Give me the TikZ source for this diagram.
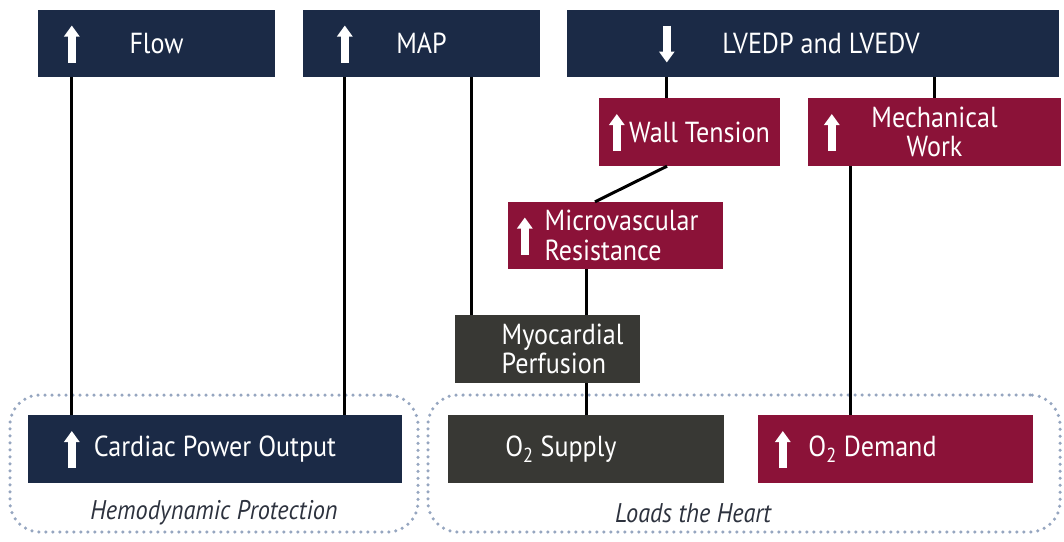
\documentclass[tikz,border=0pt]{standalone}
\usepackage{fontspec}
\setmainfont[FakeStretch=0.9]{PT Sans}
\usepackage{tikz}
\usetikzlibrary{arrows.meta,positioning}

\definecolor{navy}{RGB}{27,42,70}
\definecolor{crimson}{RGB}{139,18,56}
\definecolor{darkgrey}{RGB}{56,56,52}
\definecolor{dotblue}{RGB}{150,166,192}
\definecolor{capgrey}{RGB}{45,50,62}

% white arrow inside a box: box name, distance from its left edge
\newcommand{\upicon}[2]{\draw[icon] ([xshift=#2, yshift=-19pt]#1.west) -- ([xshift=#2, yshift=18pt]#1.west);}
\newcommand{\downicon}[2]{\draw[icon] ([xshift=#2, yshift=18pt]#1.west) -- ([xshift=#2, yshift=-19pt]#1.west);}

\begin{document}
\begin{tikzpicture}[
    x=1pt, y=-1pt,
    box/.style={rectangle, minimum height=67, inner sep=0, text=white, font=\fontsize{29}{29.5}\selectfont},
    navybox/.style={box, fill=navy},
    redbox/.style={box, fill=crimson},
    greybox/.style={box, fill=darkgrey},
    link/.style={line width=3pt, black},
    icon/.style={white, line width=7.5pt, -{Triangle[width=15pt, length=11pt]}},
    zone/.style={draw=dotblue, line width=3.5pt, dash pattern=on 0pt off 7pt, line cap=round, rounded corners=30pt},
    caption/.style={font=\fontsize{27}{30}\selectfont\itshape, text=capgrey}
]
    \useasboundingbox (0,0) rectangle (1064,541);

    % groups
    \node[zone, minimum width=408, minimum height=137] (hemo) at (214,463.5) {};
    \node[zone, minimum width=632, minimum height=137] (loads) at (744,463.5) {};
    \node[caption] (hemocap) at (214,513) {Hemodynamic Protection};
    \node[caption] (loadscap) at (693,513) {Loads the Heart};

    % top row
    \node[navybox, minimum width=237] (flow) at (156.5,43.5) {Flow};
    \node[navybox, minimum width=237] (map) at (421.5,43.5) {MAP};
    \node[navybox, minimum width=492] (lvedp) at (813,43.5) {\hspace*{16pt}LVEDP and LVEDV};

    % middle
    \node[redbox, minimum width=181, minimum height=68] (wall) at (689.5,132) {\hspace*{20pt}Wall Tension};
    \node[redbox, minimum width=253, minimum height=68, align=center] (mech) at (934.5,132) {Mechanical\\Work};
    \node[redbox, minimum width=215, align=left] (micro) at (615.5,235.5) {\hspace*{12pt}Microvascular\\\hspace*{12pt}Resistance};
    \node[greybox, minimum width=185, minimum height=68, align=left] (myo) at (547.5,349) {\hspace*{30pt}Myocardial\\\hspace*{30pt}Perfusion};

    % bottom row
    \node[navybox, minimum width=374, minimum height=68] (cpo) at (215,449) {Cardiac Power Output};
    \node[greybox, minimum width=276, minimum height=68] (supply) at (586,449) {O\textsubscript{2} Supply\hspace*{50pt}};
    \node[redbox, minimum width=275, minimum height=68] (demand) at (895.5,449) {O\textsubscript{2} Demand\hspace*{46pt}};

    % connector ends
    \coordinate (f1) at ([xshift=34]flow.south west);
    \coordinate (m1) at ([xshift=42]map.south west);
    \coordinate (m2) at ([xshift=169]map.south west);
    \coordinate (l1) at ([xshift=100]lvedp.south west);
    \coordinate (w1) at ([xshift=-22.5]wall.south);
    \coordinate (r1) at ([xshift=-20.5]micro.north);
    \coordinate (k1) at ([xshift=43]mech.south west);

    \draw[link] (f1) -- (f1 |- cpo.north);
    \draw[link] (m1) -- (m1 |- cpo.north);
    \draw[link] (m2) -- (m2 |- myo.north);
    \draw[link] (l1) -- (l1 |- wall.north);
    \draw[link] (mech.north) -- (mech.north |- lvedp.south);
    \draw[link] (w1) -- (r1);
    \draw[link] (micro.south -| supply.north) -- (myo.north -| supply.north);
    \draw[link] (myo.south -| supply.north) -- (supply.north);
    \draw[link] (k1) -- (k1 |- demand.north);

    % arrows in boxes
    \upicon{flow}{34}
    \upicon{map}{42}
    \downicon{lvedp}{100}
    \upicon{wall}{18}
    \upicon{mech}{24}
    \upicon{micro}{17}
    \upicon{cpo}{44}
    \upicon{demand}{25}
\end{tikzpicture}
\end{document}
